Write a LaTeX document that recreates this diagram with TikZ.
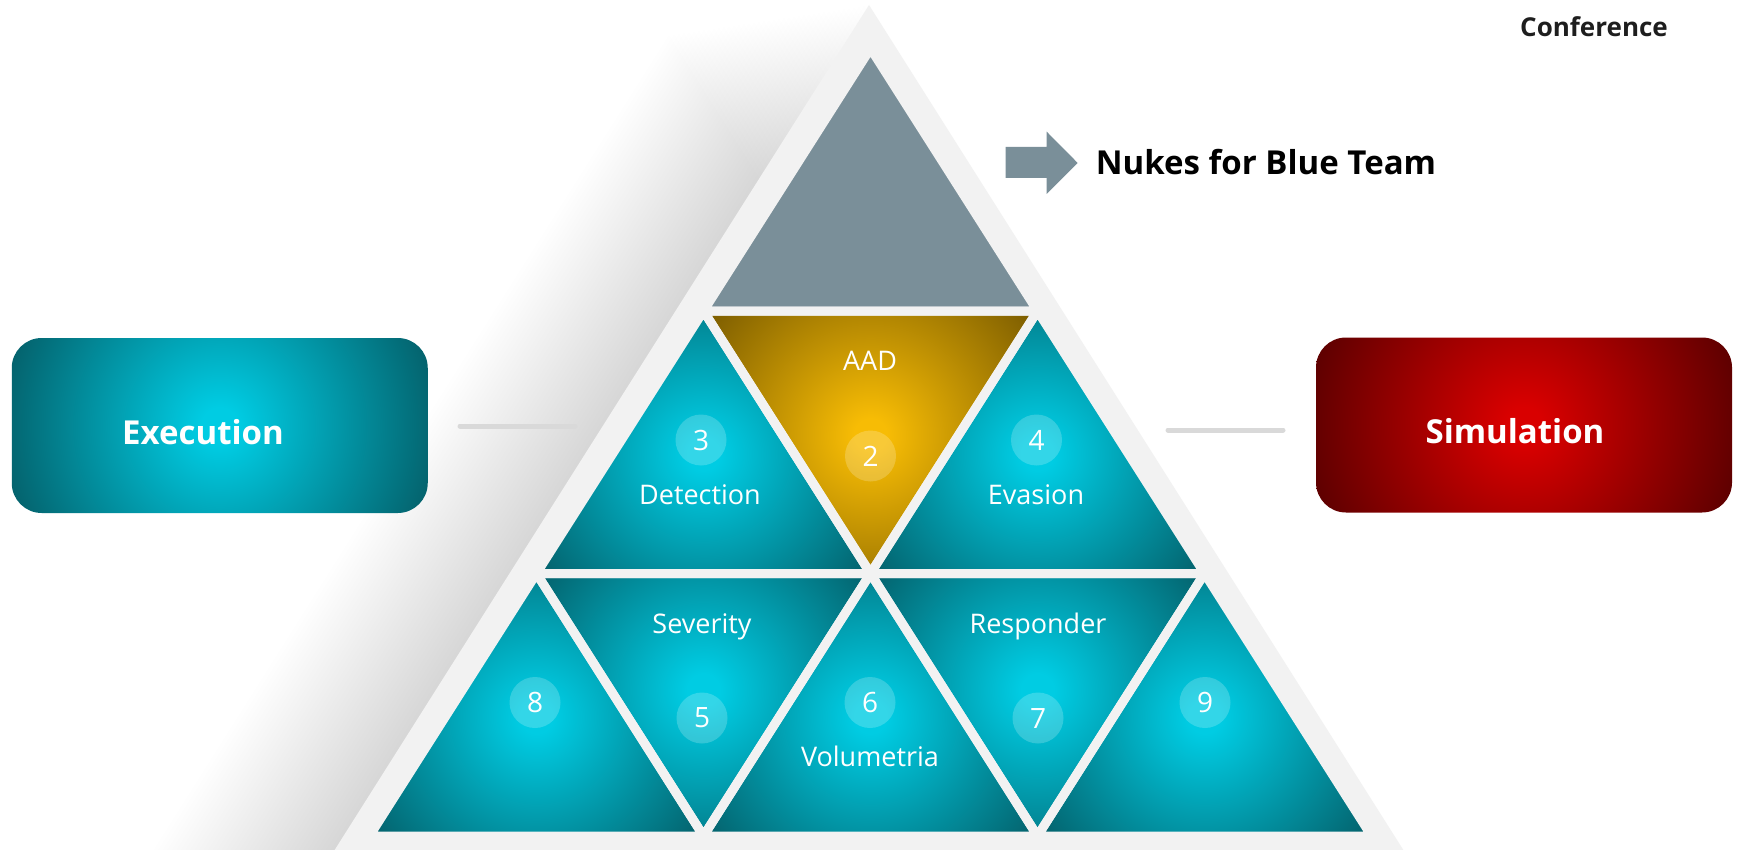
\documentclass[tikz,border=0pt]{standalone}
\usepackage{fontspec}
\setmainfont{Open Sans}
\definecolor{rimgray}{HTML}{F2F2F2}
\definecolor{slate}{HTML}{7A8F99}
\definecolor{tealC}{HTML}{00CCE3}
\definecolor{tealE}{HTML}{045F69}
\definecolor{goldC}{HTML}{F7BC05}
\definecolor{goldE}{HTML}{7A5B00}
\definecolor{redC}{HTML}{D90000}
\definecolor{redE}{HTML}{5A0000}
\definecolor{linegray}{HTML}{D9D9D9}
\definecolor{titlegray}{HTML}{1E1E1E}
\pgfdeclareradialshading{tealglow}{\pgfpoint{0bp}{0bp}}{color(0bp)=(tealC); color(2bp)=(tealC); color(25bp)=(tealE); color(50bp)=(tealE)}
\pgfdeclareradialshading{goldglow}{\pgfpoint{0bp}{0bp}}{color(0bp)=(goldC); color(2bp)=(goldC); color(25bp)=(goldE); color(50bp)=(goldE)}
\pgfdeclareradialshading{redglow}{\pgfpoint{0bp}{0bp}}{color(0bp)=(redC); color(2bp)=(redC); color(25bp)=(redE); color(50bp)=(redE)}
\newcommand\myshadecell[5]{%
  \begin{scope}
    \clip #3 -- #4 -- #5 -- cycle;
    \shade[shading=#1, shift={#2}] (-205,-205) rectangle (205,205);
  \end{scope}}
\tikzset{
  lbl/.style={text=white, font=\fontsize{27}{30}\selectfont, anchor=base, inner sep=0},
  num/.style={circle, fill=white, fill opacity=0.2, text opacity=1, text=white,
    minimum size=51, inner sep=0, font=\fontsize{28}{30}\selectfont},
  gap/.style={draw=rimgray, line width=9, line join=miter},
  conn/.style={draw=linegray, line width=5, line cap=round},
  bigbox/.style={rounded corners=30, minimum width=416, minimum height=175, inner sep=0,
    path picture={\shade[shading=#1] ([shift={(-225,-225)}]path picture bounding box.center)
      rectangle ([shift={(225,225)}]path picture bounding box.center);}},
  boxtext/.style={text=white, font=\fontsize{33}{36}\selectfont\bfseries, anchor=base, inner sep=0},
}
\begin{document}
\begin{tikzpicture}[x=1pt,y=-1pt]
\useasboundingbox (0,0) rectangle (1739,850);
\clip (0,0) rectangle (1739,850);
\fill[white] (0,0) rectangle (1739,850);
% soft shadow on the left of the pyramid
\foreach \i [evaluate=\i as \o using 5*\i] in {1,...,40}{
  \fill[black, opacity=0.0026] (869-\o, 5+0.15*\o) -- (322-\o, 870+0.15*\o) -- (1416-\o, 870+0.15*\o) -- cycle;
}
% rim triangle
\fill[rimgray] (869,5) -- (322,870) -- (1416,870) -- cycle;
% lattice points
\coordinate (p00) at (870.5,48.5);
\coordinate (p10) at (703.5,311);   \coordinate (p11) at (1037.5,311);
\coordinate (p20) at (536.5,573.5); \coordinate (p21) at (870.5,573.5); \coordinate (p22) at (1204.5,573.5);
\coordinate (p30) at (369.5,836);   \coordinate (p31) at (703.5,836);   \coordinate (p32) at (1037.5,836); \coordinate (p33) at (1371.5,836);
% cells
\fill[slate] (p00) -- (p10) -- (p11) -- cycle;
\myshadecell{tealglow}{(703.5,454)}{(p10)}{(p20)}{(p21)}
\myshadecell{goldglow}{(870.5,435)}{(p10)}{(p11)}{(p21)}
\myshadecell{tealglow}{(1037.5,454)}{(p11)}{(p21)}{(p22)}
\myshadecell{tealglow}{(536.5,717)}{(p20)}{(p30)}{(p31)}
\myshadecell{tealglow}{(703.5,690)}{(p20)}{(p21)}{(p31)}
\myshadecell{tealglow}{(870.5,717)}{(p21)}{(p31)}{(p32)}
\myshadecell{tealglow}{(1037.5,690)}{(p21)}{(p22)}{(p32)}
\myshadecell{tealglow}{(1204.5,717)}{(p22)}{(p32)}{(p33)}
% gaps
\draw[gap] (p00) -- (p10) -- (p11) -- cycle;
\draw[gap] (p10) -- (p20) -- (p21) -- cycle;
\draw[gap] (p10) -- (p11) -- (p21) -- cycle;
\draw[gap] (p11) -- (p21) -- (p22) -- cycle;
\draw[gap] (p20) -- (p30) -- (p31) -- cycle;
\draw[gap] (p20) -- (p21) -- (p31) -- cycle;
\draw[gap] (p21) -- (p31) -- (p32) -- cycle;
\draw[gap] (p21) -- (p22) -- (p32) -- cycle;
\draw[gap] (p22) -- (p32) -- (p33) -- cycle;
% number badges
\node[num] (n2) at (870.5,456) {2};
\node[num] (n3) at (701,440) {3};
\node[num] (n4) at (1036.5,440) {4};
\node[num] (n8) at (535,702.5) {8};
\node[num] (n5) at (702,718) {5};
\node[num] (n6) at (870,702.5) {6};
\node[num] (n7) at (1038,718) {7};
\node[num] (n9) at (1205,702.5) {9};
% cell labels
\node[lbl] (tAAD) at (870,370) {AAD};
\node[lbl] (tDet) at (700,504) {Detection};
\node[lbl] (tEva) at (1036,504) {Evasion};
\node[lbl] (tSev) at (702,633) {Severity};
\node[lbl] (tRes) at (1038,633) {Responder};
\node[lbl] (tVol) at (870,766) {Volumetria};
% side boxes
\node[bigbox=tealglow] (exec) at (219.75,425.5) {};
\node[boxtext] (tExec) at (203,444) {Execution};
\node[bigbox=redglow] (sim) at (1524,425) {};
\node[boxtext] (tSim) at (1515,443) {Simulation};
% short connector lines
\coordinate (la) at (460,426); \coordinate (lb) at (575,426);
\coordinate (ra) at (1168,430); \coordinate (rb) at (1283,430);
\draw[conn] (la) -- (lb);
\draw[conn] (ra) -- (rb);
% block arrow and title
\fill[slate] (1005.7,147) -- (1046.7,147) -- (1046.7,131.7) -- (1077.7,163) -- (1046.7,194) -- (1046.7,178) -- (1005.7,178) -- cycle;
\node[anchor=base, inner sep=0, font=\fontsize{33}{36}\selectfont\bfseries, text=black] (nukes) at (1266,175) {Nukes for Blue Team};
\node[anchor=base, inner sep=0, font=\fontsize{26}{28}\selectfont\bfseries, text=titlegray] (conf) at (1594,36.5) {Conference};
\end{tikzpicture}
\end{document}
